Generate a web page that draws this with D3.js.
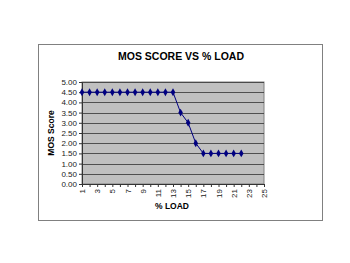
<!DOCTYPE html>
<html>
<head>
<meta charset="utf-8">
<script src="https://cdn.jsdelivr.net/npm/d3@7"></script>
<style>
body { margin: 0; background: #fff; }
svg { display: block; font-family: "Liberation Sans", Arial, sans-serif; }
</style>
</head>
<body>
<div id="chart"></div>
<script>
var width = 350;
var height = 263;

// data
const categories = d3.range(1, 26); // 1..25
const tickLabels = [1, 3, 5, 7, 9, 11, 13, 15, 17, 19, 21, 23, 25];
const loads = [1, 2, 3, 4, 5, 6, 7, 8, 9, 10, 11, 12, 13, 14, 15, 16, 17, 18, 19, 20, 21, 22];
const mosScores = [4.5, 4.5, 4.5, 4.5, 4.5, 4.5, 4.5, 4.5, 4.5, 4.5, 4.5, 4.5, 4.5, 3.5, 3.0, 2.0, 1.5, 1.5, 1.5, 1.5, 1.5, 1.5];
const yTicks = [0, 0.5, 1, 1.5, 2, 2.5, 3, 3.5, 4, 4.5, 5];

var svg = d3
	.select("#chart")
	.append("svg")
	.attr("width", width)
	.attr("height", height);

// outer chart frame
svg.append("rect")
	.attr("x", 38.5).attr("y", 44.5)
	.attr("width", 284).attr("height", 176)
	.attr("fill", "#fff")
	.attr("stroke", "#808080");

var plot = { left: 82, right: 264, top: 82, bottom: 184 };

var x = d3.scalePoint().domain(categories).range([plot.left, plot.right]);
var y = d3.scaleLinear().domain([0, 5]).range([plot.bottom, plot.top]);

// plot area
svg.append("rect")
	.attr("x", plot.left).attr("y", plot.top)
	.attr("width", plot.right - plot.left).attr("height", plot.bottom - plot.top)
	.attr("fill", "#c0c0c0")
	.attr("stroke", "#808080");

// gridlines
svg.append("g")
	.selectAll("line")
	.data(yTicks.slice(1))
	.join("line")
	.attr("x1", plot.left).attr("x2", plot.right)
	.attr("y1", (d) => Math.round(y(d)) + 0.5).attr("y2", (d) => Math.round(y(d)) + 0.5)
	.attr("stroke", "#333")
	.attr("stroke-width", 0.8);

// y axis
var yAxis = svg.append("g")
	.attr("transform", "translate(" + plot.left + ",0)")
	.call(d3.axisLeft(y).tickValues(yTicks).tickFormat(d3.format(".2f")).tickSize(3).tickPadding(2));
yAxis.selectAll("text").attr("font-size", 8).attr("fill", "#222");
yAxis.selectAll("line, path").attr("stroke", "#333");

// x axis
var xAxis = svg.append("g")
	.attr("transform", "translate(0," + plot.bottom + ")")
	.call(d3.axisBottom(x).tickSize(3).tickFormat((d) => (tickLabels.includes(d) ? d : "")));
xAxis.selectAll("text")
	.attr("font-size", 8).attr("fill", "#222")
	.attr("transform", "rotate(-90)")
	.attr("text-anchor", "end")
	.attr("x", -5).attr("y", 0).attr("dy", "0.32em");
xAxis.selectAll("line, path").attr("stroke", "#333");

// line + markers
var line = d3.line().x((d, i) => x(loads[i])).y((d) => y(d));
svg.append("path")
	.attr("d", line(mosScores))
	.attr("fill", "none")
	.attr("stroke", "#000080")
	.attr("stroke-width", 1);

svg.append("g")
	.selectAll("path")
	.data(mosScores)
	.join("path")
	.attr("d", d3.symbol().type(d3.symbolDiamond).size(18))
	.attr("transform", (d, i) => "translate(" + x(loads[i]) + "," + y(d) + ")")
	.attr("fill", "#000080");

// titles
svg.append("text")
	.attr("x", 181).attr("y", 60)
	.attr("text-anchor", "middle")
	.attr("font-size", 10.5).attr("font-weight", "bold")
	.text("MOS SCORE VS % LOAD");

svg.append("text")
	.attr("transform", "translate(54,133) rotate(-90)")
	.attr("text-anchor", "middle")
	.attr("font-size", 8.5).attr("font-weight", "bold")
	.text("MOS Score");

svg.append("text")
	.attr("x", 172).attr("y", 209)
	.attr("text-anchor", "middle")
	.attr("font-size", 8.5).attr("font-weight", "bold")
	.text("% LOAD");
</script>
</body>
</html>
